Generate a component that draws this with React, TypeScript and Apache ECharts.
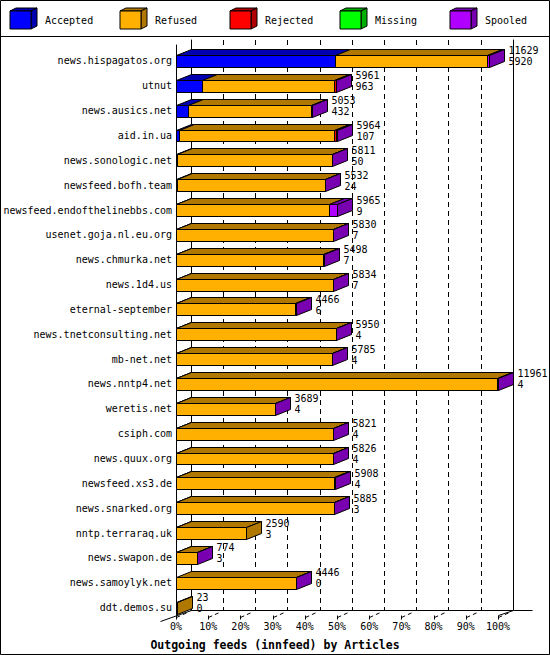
import React, { useEffect, useRef } from 'react';
import * as echarts from 'echarts';

type EChartsOption = echarts.EChartsOption;

const HOSTS = [
  'news.hispagatos.org', 'utnut', 'news.ausics.net', 'aid.in.ua', 'news.sonologic.net',
  'newsfeed.bofh.team', 'newsfeed.endofthelinebbs.com', 'usenet.goja.nl.eu.org',
  'news.chmurka.net', 'news.1d4.us', 'eternal-september', 'news.tnetconsulting.net',
  'mb-net.net', 'news.nntp4.net', 'weretis.net', 'csiph.com', 'news.quux.org',
  'newsfeed.xs3.de', 'news.snarked.org', 'nntp.terraraq.uk', 'news.swapon.de',
  'news.samoylyk.net', 'ddt.demos.su',
];

// offered / accepted are the two numbers printed next to each bar
const OFFERED = [11629, 5961, 5053, 5964, 5811, 5532, 5965, 5830, 5498, 5834, 4466, 5950, 5785, 11961, 3689, 5821, 5826, 5908, 5885, 2590, 774, 4446, 23];
const ACCEPTED = [5920, 963, 432, 107, 50, 24, 9, 7, 7, 7, 6, 4, 4, 4, 4, 4, 4, 4, 3, 3, 3, 0, 0];
const REFUSED = [5649, 4898, 4581, 5777, 5731, 5503, 5656, 5818, 5461, 5807, 4430, 5941, 5776, 11917, 3680, 5812, 5817, 5874, 5852, 2587, 766, 4441, 23];
const REJECTED = [0, 90, 0, 70, 0, 0, 0, 0, 0, 0, 0, 0, 0, 0, 0, 0, 0, 0, 0, 0, 0, 0, 0];
const MISSING = [0, 0, 0, 0, 0, 0, 0, 0, 0, 0, 0, 0, 0, 0, 0, 0, 0, 0, 0, 0, 0, 0, 0];
const SPOOLED = [60, 10, 40, 10, 30, 5, 300, 5, 30, 20, 30, 5, 5, 40, 5, 5, 5, 30, 30, 0, 5, 5, 0];

const SEGMENTS = ['Accepted', 'Refused', 'Rejected', 'Missing', 'Spooled'];
const FRONT = ['#0000ff', '#ffb000', '#ff0000', '#00ff00', '#b000ff'];
const DARK = ['#0000b0', '#b07800', '#b00000', '#00b000', '#7800b0'];

const PCT_TICKS = [0, 10, 20, 30, 40, 50, 60, 70, 80, 90, 100];

const FONT = '"DejaVu Sans Mono", monospace';
const DX = 15;
const DY = 6;

const MAX_OFFERED = Math.max(...OFFERED);
const pct = (v: number) => (v / MAX_OFFERED) * 100;

const rows = HOSTS.map((_, i) => [
  i,
  pct(ACCEPTED[i]),
  pct(REFUSED[i]),
  pct(REJECTED[i]),
  pct(MISSING[i]),
  pct(SPOOLED[i]),
]);

const px = (v: number) => Math.round(v) + 0.5;

const renderBar = (params: any, api: any) => {
  const row = api.value(0);
  const center = api.coord([0, row]);
  const h = api.size([0, 1])[1] * 0.48;
  const yTop = px(center[1] - h / 2);
  const yBot = px(center[1] + h / 2);
  const children: any[] = [];
  let cum = 0;
  let last = -1;
  let xEnd = px(center[0]);
  for (let k = 0; k < SEGMENTS.length; k++) {
    const v = api.value(k + 1);
    if (v <= 0) continue;
    const x0 = px(api.coord([cum, row])[0]);
    cum += v;
    const x1 = px(api.coord([cum, row])[0]);
    children.push({
      type: 'polygon',
      shape: { points: [[x0, yTop], [x1, yTop], [x1 + DX, yTop - DY], [x0 + DX, yTop - DY]] },
      style: { fill: DARK[k], stroke: '#000', lineWidth: 1 },
    });
    children.push({
      type: 'rect',
      shape: { x: x0, y: yTop, width: x1 - x0, height: yBot - yTop },
      style: { fill: FRONT[k], stroke: '#000', lineWidth: 1 },
    });
    last = k;
    xEnd = x1;
  }
  if (last >= 0) {
    children.push({
      type: 'polygon',
      shape: { points: [[xEnd, yTop], [xEnd + DX, yTop - DY], [xEnd + DX, yBot - DY], [xEnd, yBot]] },
      style: { fill: DARK[last], stroke: '#000', lineWidth: 1 },
    });
  }
  const i = params.dataIndex;
  children.push({
    type: 'text',
    style: {
      x: xEnd + DX + 4,
      y: center[1] - 4.5,
      text: OFFERED[i] + '\n' + ACCEPTED[i],
      fill: '#000',
      fontSize: 10,
      fontFamily: FONT,
      lineHeight: 11,
      align: 'left',
      verticalAlign: 'middle',
    },
  });
  return { type: 'group', children };
};

const renderFloor = (params: any, api: any) => {
  const v = api.value(0);
  const p = api.coord([v, 0]);
  const x = px(p[0]);
  const y = px(p[1]);
  const line = { stroke: '#000', lineWidth: 1 };
  const children: any[] = [
    { type: 'line', shape: { x1: x, y1: y, x2: x, y2: y + 4 }, style: line },
    { type: 'line', shape: { x1: x, y1: y + 2, x2: x + 11, y2: y - 3 }, style: { ...line, lineDash: [4, 3] } },
  ];
  if (v === PCT_TICKS[0]) {
    children.push({ type: 'line', shape: { x1: x - 16, y1: y + 6, x2: x + DX, y2: y - 5 }, style: line });
  }
  if (v === PCT_TICKS[PCT_TICKS.length - 1]) {
    children.push({ type: 'line', shape: { x1: x, y1: y, x2: x + DX, y2: y - 5 }, style: line });
    children.push({ type: 'line', shape: { x1: x + DX, y1: y - 5, x2: x + DX + 19, y2: y - 5 }, style: line });
  }
  return { type: 'group', children };
};

const cube = (k: number) => {
  const x = 10 + k * 110;
  const y = 11;
  const w = 21;
  const h = 18;
  return {
    type: 'group',
    children: [
      {
        type: 'polygon',
        shape: { points: [[x, y], [x + w, y], [x + w + 6, y - 3], [x + 6, y - 3]] },
        style: { fill: DARK[k], stroke: '#000', lineWidth: 1 },
      },
      {
        type: 'polygon',
        shape: { points: [[x + w, y], [x + w + 6, y - 3], [x + w + 6, y + h - 3], [x + w, y + h]] },
        style: { fill: DARK[k], stroke: '#000', lineWidth: 1 },
      },
      {
        type: 'rect',
        shape: { x, y, width: w, height: h },
        style: { fill: FRONT[k], stroke: '#000', lineWidth: 1 },
      },
      {
        type: 'text',
        style: {
          x: x + 35,
          y: y + 9,
          text: SEGMENTS[k],
          fill: '#000',
          fontSize: 10,
          fontFamily: FONT,
          verticalAlign: 'middle',
        },
      },
    ],
  };
};

const option: EChartsOption = {
  animation: false,
  backgroundColor: '#fff',
  title: {
    text: 'Outgoing feeds (innfeed) by Articles',
    left: 'center',
    top: 634,
    textStyle: { fontFamily: FONT, fontWeight: 'bold', fontSize: 11.5, color: '#000' },
  },
  graphic: [
    { type: 'rect', shape: { x: 0.5, y: 0.5, width: 549, height: 654 }, style: { fill: 'none', stroke: '#000', lineWidth: 1 } },
    { type: 'line', shape: { x1: 0, y1: 36.5, x2: 550, y2: 36.5 }, style: { stroke: '#000', lineWidth: 1 } },
    ...SEGMENTS.map((_, k) => cube(k)),
  ] as any,
  grid: [
    { left: 176, top: 48.5, width: 322, height: 571.5 },
    { left: 191, top: 40, width: 322, height: 570 },
    { left: 176, top: 45, width: 322, height: 570 },
  ],
  xAxis: [
    { gridIndex: 0, type: 'value', min: 0, max: 100, show: false },
    {
      gridIndex: 1,
      type: 'value',
      min: 0,
      max: 100,
      interval: 10,
      axisLine: { show: true, onZero: false, lineStyle: { color: '#000', width: 1 } },
      axisTick: { show: false },
      axisLabel: { show: false },
      splitLine: { show: true, lineStyle: { color: '#000', type: [5, 4], width: 1 } },
    },
    {
      gridIndex: 2,
      type: 'value',
      min: 0,
      max: 100,
      interval: 10,
      axisLine: { show: false, onZero: false },
      axisTick: { show: false },
      splitLine: { show: false },
      axisLabel: { formatter: '{value}%', fontFamily: FONT, fontSize: 10, color: '#000', margin: 6 },
    },
  ],
  yAxis: [
    {
      gridIndex: 0,
      type: 'category',
      data: HOSTS,
      inverse: true,
      axisLine: { show: false },
      axisTick: { show: false },
      axisLabel: { fontFamily: FONT, fontSize: 10, color: '#000', margin: 4 },
    },
    {
      gridIndex: 1,
      type: 'value',
      min: 0,
      max: 1,
      axisLine: { show: true, onZero: false, lineStyle: { color: '#000', width: 1 } },
      axisTick: { show: false },
      axisLabel: { show: false },
      splitLine: { show: false },
    },
    {
      gridIndex: 1,
      type: 'value',
      position: 'right',
      min: 0,
      max: 1,
      axisLine: { show: true, onZero: false, lineStyle: { color: '#000', width: 1 } },
      axisTick: { show: false },
      axisLabel: { show: false },
      splitLine: { show: false },
    },
    {
      gridIndex: 2,
      type: 'value',
      min: 0,
      max: 1,
      axisLine: { show: true, onZero: false, lineStyle: { color: '#000', width: 1 } },
      axisTick: { show: false },
      axisLabel: { show: false },
      splitLine: { show: false },
    },
  ],
  series: [
    {
      name: 'Articles',
      type: 'custom',
      xAxisIndex: 0,
      yAxisIndex: 0,
      clip: false,
      silent: true,
      renderItem: renderBar as any,
      encode: { x: [1, 2, 3, 4, 5], y: 0 },
      data: rows,
    },
    {
      name: 'Floor',
      type: 'custom',
      xAxisIndex: 2,
      yAxisIndex: 3,
      clip: false,
      silent: true,
      renderItem: renderFloor as any,
      encode: { x: 0 },
      data: PCT_TICKS.map((v) => [v]),
    },
  ],
};

const App: React.FC = () => {
  const chartRef = useRef<HTMLDivElement | null>(null);

  useEffect(() => {
    if (chartRef.current) {
      const myChart = echarts.init(chartRef.current, undefined, { renderer: 'svg' });
      myChart.setOption(option);
      return () => {
        myChart.dispose();
      };
    }
  }, []);

  return (
    <div
      ref={chartRef}
      style={{ position: 'absolute', left: 0, top: 0, width: '550px', height: '655px', background: '#fff' }}
    />
  );
};

export default App;
